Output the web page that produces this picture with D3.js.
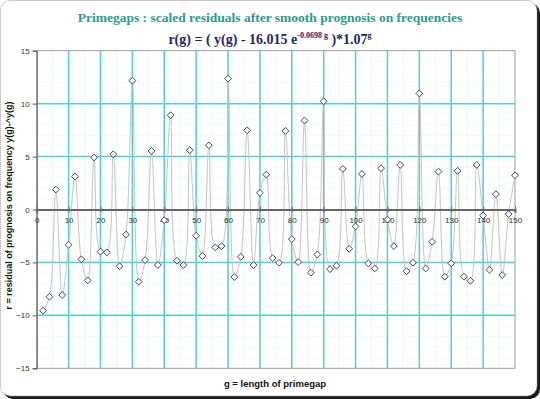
<!DOCTYPE html>
<html lang="en">
<head>
  <meta charset="UTF-8">
  <title>Primegaps residuals</title>
  <script src="https://d3js.org/d3.v7.min.js"></script>
  <style>
    body { margin: 0; background: #fff; }
  </style>
</head>
<body>
  <script>
    // gap length g and scaled residual r(g)
    var gaps = [2, 4, 6, 8, 10, 12, 14, 16, 18, 20, 22, 24, 26, 28, 30, 32, 34, 36, 38, 40,
                42, 44, 46, 48, 50, 52, 54, 56, 58, 60, 62, 64, 66, 68, 70, 72, 74, 76, 78, 80,
                82, 84, 86, 88, 90, 92, 94, 96, 98, 100, 102, 104, 106, 108, 110, 112, 114, 116, 118, 120,
                122, 124, 126, 128, 130, 132, 134, 136, 138, 140, 142, 144, 146, 148, 150];
    var residuals = [-9.56, -8.24, 1.89, -8.08, -3.33, 3.11, -4.70, -6.70, 4.91, -3.98,
                     -4.05, 5.22, -5.36, -2.37, 12.17, -6.82, -4.78, 5.53, -5.24, -1.0,
                     8.90, -4.84, -5.25, 5.60, -2.48, -4.40, 6.07, -3.58, -3.46, 12.36,
                     -6.38, -4.47, 7.48, -5.25, 1.57, 3.30, -4.59, -5.03, 7.42, -2.80,
                     -4.97, 8.40, -5.97, -4.25, 10.22, -5.63, -5.31, 3.84, -3.71, -1.60,
                     3.36, -5.09, -5.57, 3.90, -0.95, -3.46, 4.21, -5.82, -5.03, 10.97,
                     -5.57, -3.05, 3.58, -6.35, -5.09, 3.65, -6.35, -6.73, 4.21, -0.57,
                     -5.69, 1.45, -6.19, -0.44, 3.24];
    var xTicks = [0, 10, 20, 30, 40, 50, 60, 70, 80, 90, 100, 110, 120, 130, 140, 150];
    var yTicks = [-15, -10, -5, 0, 5, 10, 15];

    var data = gaps.map(function(g, i) { return [g, residuals[i]]; });

    var w = 540;
    var h = 399;
    var pLeft = 36.7, pRight = 515, pTop = 50.7, pBottom = 368.3;

    var xScale = d3.scaleLinear().domain([0, 150]).range([pLeft, pRight]);
    var yScale = d3.scaleLinear().domain([-15, 15]).range([pBottom, pTop]);

    var svg = d3.select("body")
                .append("svg")
                .attr("width", w)
                .attr("height", h);

    // frame with shadow
    svg.append("rect")
       .attr("x", 3).attr("y", 3)
       .attr("width", 537).attr("height", 396)
       .attr("rx", 10)
       .attr("fill", "#1a1a1a");
    svg.append("rect")
       .attr("x", 0.5).attr("y", 0.5)
       .attr("width", 536.5).attr("height", 395.5)
       .attr("rx", 10)
       .attr("fill", "#fff")
       .attr("stroke", "#999")
       .attr("stroke-dasharray", "1,1");

    // minor grid (faint)
    var minorX = d3.range(0, 151, 5).filter(function(v) { return v % 10 != 0; });
    var minorY = d3.range(-15, 16, 1).filter(function(v) { return v % 5 != 0; });
    svg.append("g").selectAll("line")
       .data(minorX).enter().append("line")
       .attr("x1", function(d) { return xScale(d); })
       .attr("x2", function(d) { return xScale(d); })
       .attr("y1", pTop).attr("y2", pBottom)
       .attr("stroke", "#e8f7f8").attr("stroke-width", 1);
    svg.append("g").selectAll("line")
       .data(minorY).enter().append("line")
       .attr("y1", function(d) { return yScale(d); })
       .attr("y2", function(d) { return yScale(d); })
       .attr("x1", pLeft).attr("x2", pRight)
       .attr("stroke", "#f0fafa").attr("stroke-width", 1);

    // major grid
    svg.append("g").selectAll("line")
       .data(xTicks.slice(1, -1)).enter().append("line")
       .attr("x1", function(d) { return xScale(d); })
       .attr("x2", function(d) { return xScale(d); })
       .attr("y1", pTop).attr("y2", pBottom)
       .attr("stroke", "#4fcfd2").attr("stroke-width", 1.5);
    svg.append("g").selectAll("line")
       .data([-10, -5, 5, 10]).enter().append("line")
       .attr("y1", function(d) { return yScale(d); })
       .attr("y2", function(d) { return yScale(d); })
       .attr("x1", pLeft).attr("x2", pRight)
       .attr("stroke", "#4fcfd2").attr("stroke-width", 1.5);

    // plot border
    svg.append("rect")
       .attr("x", pLeft).attr("y", pTop)
       .attr("width", pRight - pLeft).attr("height", pBottom - pTop)
       .attr("fill", "none")
       .attr("stroke", "#a0a0a0").attr("stroke-width", 1);

    // smoothed line
    var line = d3.line()
                 .x(function(d) { return xScale(d[0]); })
                 .y(function(d) { return yScale(d[1]); })
                 .curve(d3.curveCatmullRom.alpha(0.5));
    svg.append("path")
       .datum(data)
       .attr("d", line)
       .attr("fill", "none")
       .attr("stroke", "#c4c4c4")
       .attr("stroke-width", 1);

    // y axis
    var yAxis = d3.axisLeft(yScale).tickValues(yTicks).tickSize(4).tickPadding(3);
    var gy = svg.append("g")
       .attr("transform", "translate(" + pLeft + ",0)")
       .call(yAxis);
    gy.select(".domain").attr("stroke", "#555");
    gy.selectAll(".tick line").attr("stroke", "#555");
    gy.selectAll("text").attr("font-family", "Liberation Sans, Arial, sans-serif")
      .attr("font-size", 8).attr("fill", "#333");

    // x axis at zero
    var xAxis = d3.axisBottom(xScale).tickValues(xTicks).tickSize(3).tickPadding(5);
    var gx = svg.append("g")
       .attr("transform", "translate(0," + yScale(0) + ")")
       .call(xAxis);
    gx.select(".domain").attr("stroke", "#666").attr("stroke-width", 2);
    gx.selectAll(".tick line").attr("stroke", "#666").attr("y1", -3);
    gx.selectAll("text").attr("font-family", "Liberation Sans, Arial, sans-serif")
      .attr("font-size", 8).attr("fill", "#333");

    // markers
    svg.append("g").selectAll("path")
       .data(data).enter().append("path")
       .attr("d", "M0,-3.4L3.4,0L0,3.4L-3.4,0Z")
       .attr("transform", function(d) { return "translate(" + xScale(d[0]) + "," + yScale(d[1]) + ")"; })
       .attr("fill", "#fff")
       .attr("stroke", "#283060")
       .attr("stroke-width", 0.9);

    // titles
    svg.append("text")
       .attr("x", 270).attr("y", 22)
       .attr("text-anchor", "middle")
       .attr("font-family", "Liberation Serif, Times New Roman, serif")
       .attr("font-weight", "bold")
       .attr("font-size", 13.5)
       .attr("fill", "#2f9a8e")
       .text("Primegaps : scaled residuals after smooth prognosis on frequencies");

    var t2 = svg.append("text")
       .attr("x", 270).attr("y", 44)
       .attr("text-anchor", "middle")
       .attr("font-family", "Liberation Serif, Times New Roman, serif")
       .attr("font-weight", "bold")
       .attr("font-size", 14)
       .attr("fill", "#1f2468");
    t2.append("tspan").text("r(g) = ( y(g) - 16.015 e");
    t2.append("tspan").attr("font-size", 8).attr("dy", -6).text("-0.0698 g");
    t2.append("tspan").attr("dy", 6).text(" )*1.07");
    t2.append("tspan").attr("font-size", 8).attr("dy", -6).text("g");

    svg.append("text")
       .attr("transform", "translate(12," + ((pTop + pBottom) / 2 - 4) + ") rotate(-90)")
       .attr("text-anchor", "middle")
       .attr("font-family", "Liberation Sans, Arial, sans-serif")
       .attr("font-weight", "bold")
       .attr("font-size", 9)
       .attr("fill", "#111")
       .text("r = residual of prognosis on frequency  y(g)-^y(g)");

    svg.append("text")
       .attr("x", 275).attr("y", 387)
       .attr("text-anchor", "middle")
       .attr("font-family", "Liberation Sans, Arial, sans-serif")
       .attr("font-weight", "bold")
       .attr("font-size", 9.5)
       .attr("fill", "#111")
       .text("g = length of primegap");
  </script>
</body>
</html>
